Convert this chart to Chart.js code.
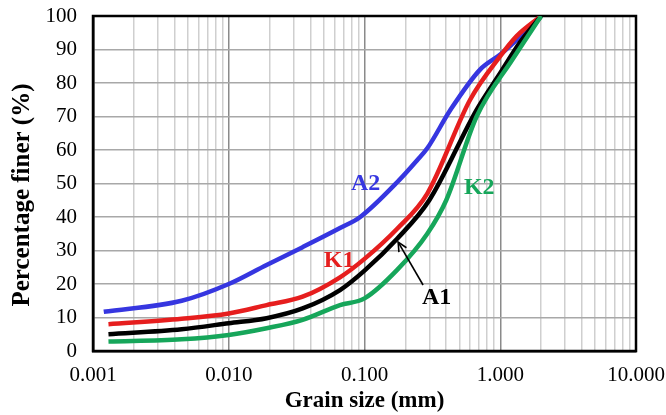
<!DOCTYPE html>
<html>
<head>
<meta charset="utf-8">
<script src="https://cdn.jsdelivr.net/npm/chart.js@4/dist/chart.umd.min.js"></script>
<style>
  html, body { margin: 0; padding: 0; background: #fff; }
  #wrap { width: 666px; height: 415px; }
</style>
</head>
<body>
<div id="wrap"><canvas id="grain-chart"></canvas></div>
<script>
// grain size (mm) and percentage finer (%) for each soil
const a2Size = [0.0012, 0.0045, 0.010, 0.019, 0.035, 0.066, 0.093, 0.180, 0.245, 0.290, 0.430, 0.710, 1.000, 1.180, 2.000];
const a2Finer = [11.7, 15.0, 20.0, 25.7, 31.0, 36.7, 40.0, 51.0, 57.0, 60.5, 72.0, 84.0, 88.5, 91.0, 100];

const k1Size = [0.0013, 0.0045, 0.010, 0.019, 0.035, 0.066, 0.100, 0.174, 0.290, 0.600, 1.000, 1.320, 2.000];
const k1Finer = [8.0, 9.6, 11.2, 13.7, 16.2, 22.0, 27.5, 36.5, 47.0, 75.0, 88.0, 94.0, 100];

const a1Size = [0.0013, 0.0045, 0.010, 0.019, 0.035, 0.066, 0.100, 0.174, 0.300, 0.670, 1.000, 1.390, 2.000];
const a1Finer = [5.0, 6.5, 8.3, 9.8, 12.7, 18.2, 24.0, 33.5, 45.0, 72.0, 83.0, 92.0, 100];

const k2Size = [0.0013, 0.0045, 0.010, 0.019, 0.035, 0.066, 0.100, 0.174, 0.290, 0.400, 0.670, 1.230, 2.000];
const k2Finer = [2.8, 3.5, 4.8, 6.8, 9.3, 13.7, 15.7, 24.2, 35.0, 45.0, 70.0, 87.0, 100];

const decades = [0.001, 0.01, 0.1, 1, 10];
const yTicks = [0, 10, 20, 30, 40, 50, 60, 70, 80, 90, 100];

function toPoints(xs, ys)
{
    let pts = [];
    for( let i = 0; i < xs.length; i++ )
    {
        pts.push( { x: xs[i], y: ys[i] } );
    }
    return pts;
}

function isDecade(v)
{
    return decades.some( d => Math.abs(v - d) / d < 1e-6 );
}

const serif = '"Liberation Serif", "Times New Roman", serif';

// curve labels, placed in data coordinates
const curveLabels = [
    { text: 'A2', x: 0.102, y: 49.8, color: '#3636e0' },
    { text: 'K1', x: 0.065, y: 27.0, color: '#e61e1e' },
    { text: 'K2', x: 0.70, y: 48.6, color: '#16a65a' },
    { text: 'A1', x: 0.34, y: 15.8, color: '#000000' },
];

const labelPlugin = {
    id: 'labels',
    beforeDatasetsDraw(chart) {
        const { ctx, chartArea: a } = chart;
        ctx.save();
        ctx.strokeStyle = '#000';
        ctx.lineWidth = 2.5;
        ctx.strokeRect(a.left, a.top, a.right - a.left, a.bottom - a.top);
        ctx.restore();
    },
    afterDatasetsDraw(chart) {
        const { ctx, scales: { x, y } } = chart;
        ctx.save();
        ctx.font = 'bold 24px ' + serif;
        ctx.textAlign = 'center';
        ctx.textBaseline = 'middle';
        curveLabels.forEach( l => {
            ctx.fillStyle = l.color;
            ctx.fillText( l.text, x.getPixelForValue(l.x), y.getPixelForValue(l.y) );
        } );
        // arrow from A1 label to the black curve
        const x0 = x.getPixelForValue(0.27), y0 = y.getPixelForValue(19.7);
        const x1 = x.getPixelForValue(0.177), y1 = y.getPixelForValue(32.5);
        ctx.strokeStyle = '#000';
        ctx.lineWidth = 1.6;
        ctx.beginPath();
        ctx.moveTo(x0, y0);
        ctx.lineTo(x1, y1);
        ctx.stroke();
        const ang = Math.atan2(y1 - y0, x1 - x0);
        ctx.beginPath();
        ctx.moveTo(x1 - 10 * Math.cos(ang - 0.45), y1 - 10 * Math.sin(ang - 0.45));
        ctx.lineTo(x1, y1);
        ctx.lineTo(x1 - 10 * Math.cos(ang + 0.45), y1 - 10 * Math.sin(ang + 0.45));
        ctx.stroke();

        // y axis title
        ctx.translate(23, 195);
        ctx.rotate(-Math.PI / 2);
        ctx.font = 'bold 25px ' + serif;
        ctx.fillStyle = '#000';
        ctx.fillText('Percentage finer (%)', 0, 0);
        ctx.restore();
    }
};

function makeDataset(label, xs, ys, color)
{
    return {
        label: label,
        data: toPoints(xs, ys),
        borderColor: color,
        backgroundColor: color,
        borderWidth: 4.5,
        pointRadius: 0,
        cubicInterpolationMode: 'monotone',
        fill: false,
    };
}

document.addEventListener('DOMContentLoaded', function(){

    const ctx = document.getElementById('grain-chart').getContext('2d');

    new Chart( ctx, {
        type: 'line',
        data: {
            datasets: [
                makeDataset('K2', k2Size, k2Finer, '#16a65a'),
                makeDataset('A1', a1Size, a1Finer, '#000000'),
                makeDataset('K1', k1Size, k1Finer, '#e61e1e'),
                makeDataset('A2', a2Size, a2Finer, '#3636e0'),
            ]
        },
        options: {
            responsive: true,
            maintainAspectRatio: false,
            animation: false,
            layout: { padding: { top: 16, right: 30, left: 0, bottom: 0 } },
            plugins: {
                legend: { display: false },
                tooltip: { enabled: false },
            },
            scales: {
                x: {
                    type: 'logarithmic',
                    min: 0.001,
                    max: 10,
                    afterBuildTicks: scale => {
                        let ticks = [];
                        for( let d = 0; d < decades.length; d++ )
                        {
                            if( d === decades.length - 1 )
                            {
                                ticks.push( { value: decades[d] } );
                                break;
                            }
                            for( let s = 1; s <= 9; s++ )
                            {
                                ticks.push( { value: +(decades[d] * s).toPrecision(6) } );
                            }
                        }
                        scale.ticks = ticks;
                    },
                    afterFit: scale => {
                        scale.height = 64;
                        scale.paddingLeft = 0;
                        scale.paddingRight = 0;
                    },
                    ticks: {
                        autoSkip: false,
                        maxRotation: 0,
                        padding: 12,
                        color: '#000',
                        font: { family: serif, size: 21 },
                        callback: v => isDecade(v) ? v.toFixed(3) : '',
                    },
                    grid: {
                        color: c => isDecade(c.tick.value) ? '#8a8a8a' : '#cfcfcf',
                        lineWidth: 1.5,
                        drawTicks: false,
                    },
                    border: { color: '#000', width: 2.5 },
                    title: {
                        display: true,
                        text: 'Grain size (mm)',
                        color: '#000',
                        font: { family: serif, size: 23, weight: 'bold' },
                        padding: { top: 0, bottom: 0 },
                    },
                },
                y: {
                    min: 0,
                    max: 100,
                    afterBuildTicks: scale => {
                        scale.ticks = yTicks.map( v => ( { value: v } ) );
                    },
                    afterFit: scale => {
                        scale.width = 93;
                        scale.paddingTop = 0;
                        scale.paddingBottom = 0;
                    },
                    ticks: {
                        padding: 16,
                        color: '#000',
                        font: { family: serif, size: 21 },
                    },
                    grid: {
                        color: '#a8a8a8',
                        lineWidth: 1.5,
                        drawTicks: false,
                    },
                    border: { color: '#000', width: 2.5 },
                },
            },
        },
        plugins: [labelPlugin],
    });

});
</script>
</body>
</html>
